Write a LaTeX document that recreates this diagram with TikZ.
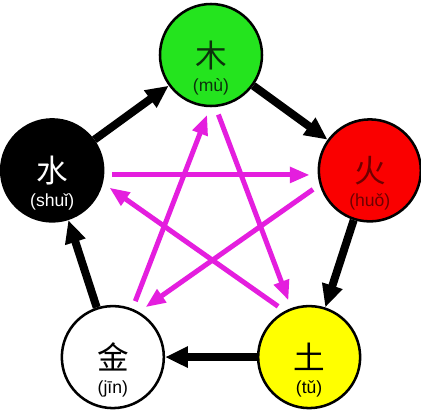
\documentclass[tikz,border=0pt]{standalone}
\usepackage{fontspec}
\setmainfont{Liberation Sans}
\newfontfamily\cjk{Noto Sans CJK SC}
\usetikzlibrary{positioning, arrows.meta}
\definecolor{woodgreen}{RGB}{36,228,30}
\definecolor{firered}{RGB}{250,0,0}
\definecolor{earthyellow}{RGB}{255,255,0}
\definecolor{starpink}{RGB}{228,30,222}
\definecolor{firetext}{RGB}{110,0,0}
\definecolor{woodtext}{RGB}{12,50,12}
\tikzset{
  element/.style={
    draw,
    circle,
    line width=1.8pt,
    minimum size=2.55cm,
    inner sep=0pt,
    font=\cjk\fontsize{22.5}{22.5}\selectfont
  },
  pinyin/.style={
    inner sep=0pt,
    font=\fontsize{12.5}{13}\selectfont
  },
  genarrow/.style={
    line width=0.2cm,
    -{Triangle[length=0.57cm, width=0.5cm]}
  },
  ctrlarrow/.style={
    draw=starpink,
    line width=0.125cm,
    shorten <=0.2cm,
    shorten >=0.2cm,
    -{Triangle[length=0.5cm, width=0.38cm]}
  }
}

\begin{document}
\begin{tikzpicture}
    \useasboundingbox (-5.275,-4.95) rectangle (5.25,5.55);

    \node[element, fill=woodgreen, text=woodtext] (wood) at (90:4.175) {木};
    \node[element, fill=firered, text=firetext] (fire) at (18:4.175) {火};
    \node[element, fill=earthyellow] (earth) at (-54:4.175) {土};
    \node[element, fill=white] (metal) at (-126:4.175) {金};
    \node[element, fill=black, text=white] (water) at (162:4.175) {水};

    \node[pinyin, text=woodtext] (woodpy) at ([yshift=-0.8cm]wood.center) {(mù)};
    \node[pinyin, text=firetext] (firepy) at ([yshift=-0.8cm]fire.center) {(huǒ)};
    \node[pinyin] (earthpy) at ([yshift=-0.8cm]earth.center) {(tǔ)};
    \node[pinyin] (metalpy) at ([yshift=-0.8cm]metal.center) {(jīn)};
    \node[pinyin, text=white] (waterpy) at ([yshift=-0.8cm]water.center) {(shuǐ)};

    % generating cycle
    \draw[genarrow] (wood) -- (fire);
    \draw[genarrow] (fire) -- (earth);
    \draw[genarrow] (earth) -- (metal);
    \draw[genarrow] (metal) -- (water);
    \draw[genarrow] (water) -- (wood);

    % controlling cycle
    \draw[ctrlarrow] (wood.-85) -- (earth.110);
    \draw[ctrlarrow] (earth.118) -- (water.-14);
    \draw[ctrlarrow] (water.-5) -- (fire.185);
    \draw[ctrlarrow] (fire.196) -- (metal.60);
    \draw[ctrlarrow] (metal.68) -- (wood.-91);
\end{tikzpicture}
\end{document}
